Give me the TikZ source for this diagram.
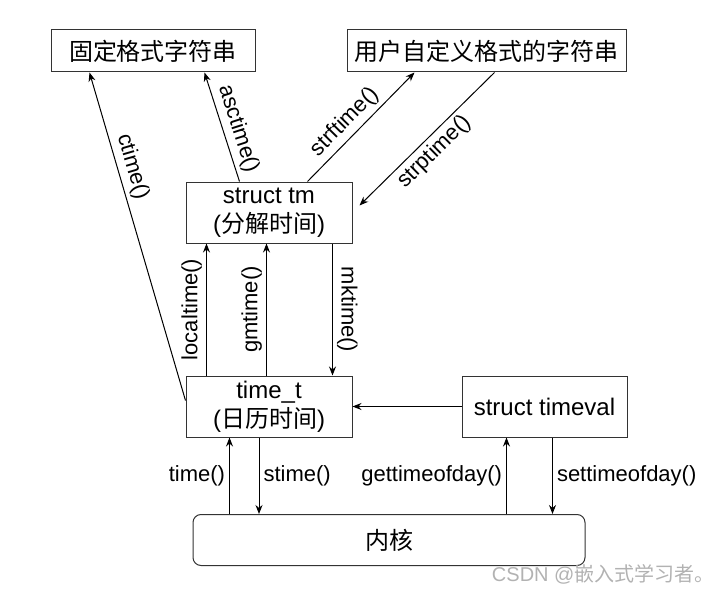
\documentclass[tikz,border=0pt]{standalone}
\usepackage{fontspec}
\setmainfont{Liberation Sans}
\newfontfamily\cjk{Noto Sans CJK SC}
\usetikzlibrary{arrows.meta}
\usetikzlibrary{calc}

\begin{document}
\begin{tikzpicture}[x=1pt, y=-1pt, line width=1pt, >={Stealth[length=9pt,width=7pt]},
  box/.style={draw=black!80, inner sep=0pt, align=center, font=\fontsize{24}{29}\selectfont},
  fn/.style={font=\fontsize{22}{26}\selectfont, inner sep=4pt}]

\useasboundingbox (0,0) rectangle (724,594);

\node[box, minimum width=204pt, minimum height=42pt] (fixstr) at (153,51) {\cjk 固定格式字符串};
\node[box, minimum width=279pt, minimum height=42pt] (userstr) at (486.5,51) {\cjk 用户自定义格式的字符串};
\node[box, minimum width=166pt, minimum height=61pt] (tm) at (269,212.5) {struct tm\\({\cjk 分解时间})};
\node[box, minimum width=166pt, minimum height=61pt] (timet) at (269,406.5) {time\_t\\({\cjk 日历时间})};
\node[box, minimum width=165pt, minimum height=61pt] (timeval) at (544.5,406.5) {struct timeval};
\node[box, minimum width=392pt, minimum height=51pt, rounded corners=8pt] (kernel) at (389,540) {\cjk 内核};

\node[anchor=east, text=black!30, inner sep=0pt, font=\fontsize{20}{24}\selectfont] (mark) at (715,574) {CSDN @{\cjk 嵌入式学习者。}};

% to the strings
\draw[->] ([yshift=6pt]timet.west) -- node[fn, pos=.7, sloped, above] {ctime()} ($(fixstr.south west)+(39,0)$);
\draw[->] ($(tm.north west)+(54,0)$) -- node[fn, pos=.44, sloped, above] {asctime()} ($(fixstr.south west)+(154,0)$);
\draw[->] ($(tm.north west)+(122,0)$) -- node[fn, pos=.45, sloped, above] {strftime()} ($(userstr.south west)+(68,0)$);
\draw[->] ($(userstr.south west)+(148,0)$) -- node[fn, pos=.52, sloped, below] {strptime()} ($(tm.east)+(7,-7)$);

% tm <-> time_t
\draw[->] ($(timet.north west)+(21,0)$) -- node[fn, sloped, above] {localtime()} ($(tm.south west)+(21,0)$);
\draw[->] ($(timet.north west)+(81,0)$) -- node[fn, sloped, above] {gmtime()} ($(tm.south west)+(81,0)$);
\draw[->] ($(tm.south west)+(147,0)$) -- node[fn, sloped, above] {mktime()} ($(timet.north west)+(147,0)$);

\draw[->] (timeval.west) -- (timet.east);

% kernel
\coordinate (ta) at ($(timet.south west)+(44,0)$);
\coordinate (tb) at ($(timet.south west)+(73.5,0)$);
\coordinate (va) at ($(timeval.south west)+(45,0)$);
\coordinate (vb) at ($(timeval.south west)+(91,0)$);
\draw[->] (ta |- kernel.north) -- node[fn, left] {time()} (ta);
\draw[->] (tb) -- node[fn, right] {stime()} (tb |- kernel.north);
\draw[->] (va |- kernel.north) -- node[fn, left] {gettimeofday()} (va);
\draw[->] (vb) -- node[fn, right] {settimeofday()} (vb |- kernel.north);
\end{tikzpicture}
\end{document}
